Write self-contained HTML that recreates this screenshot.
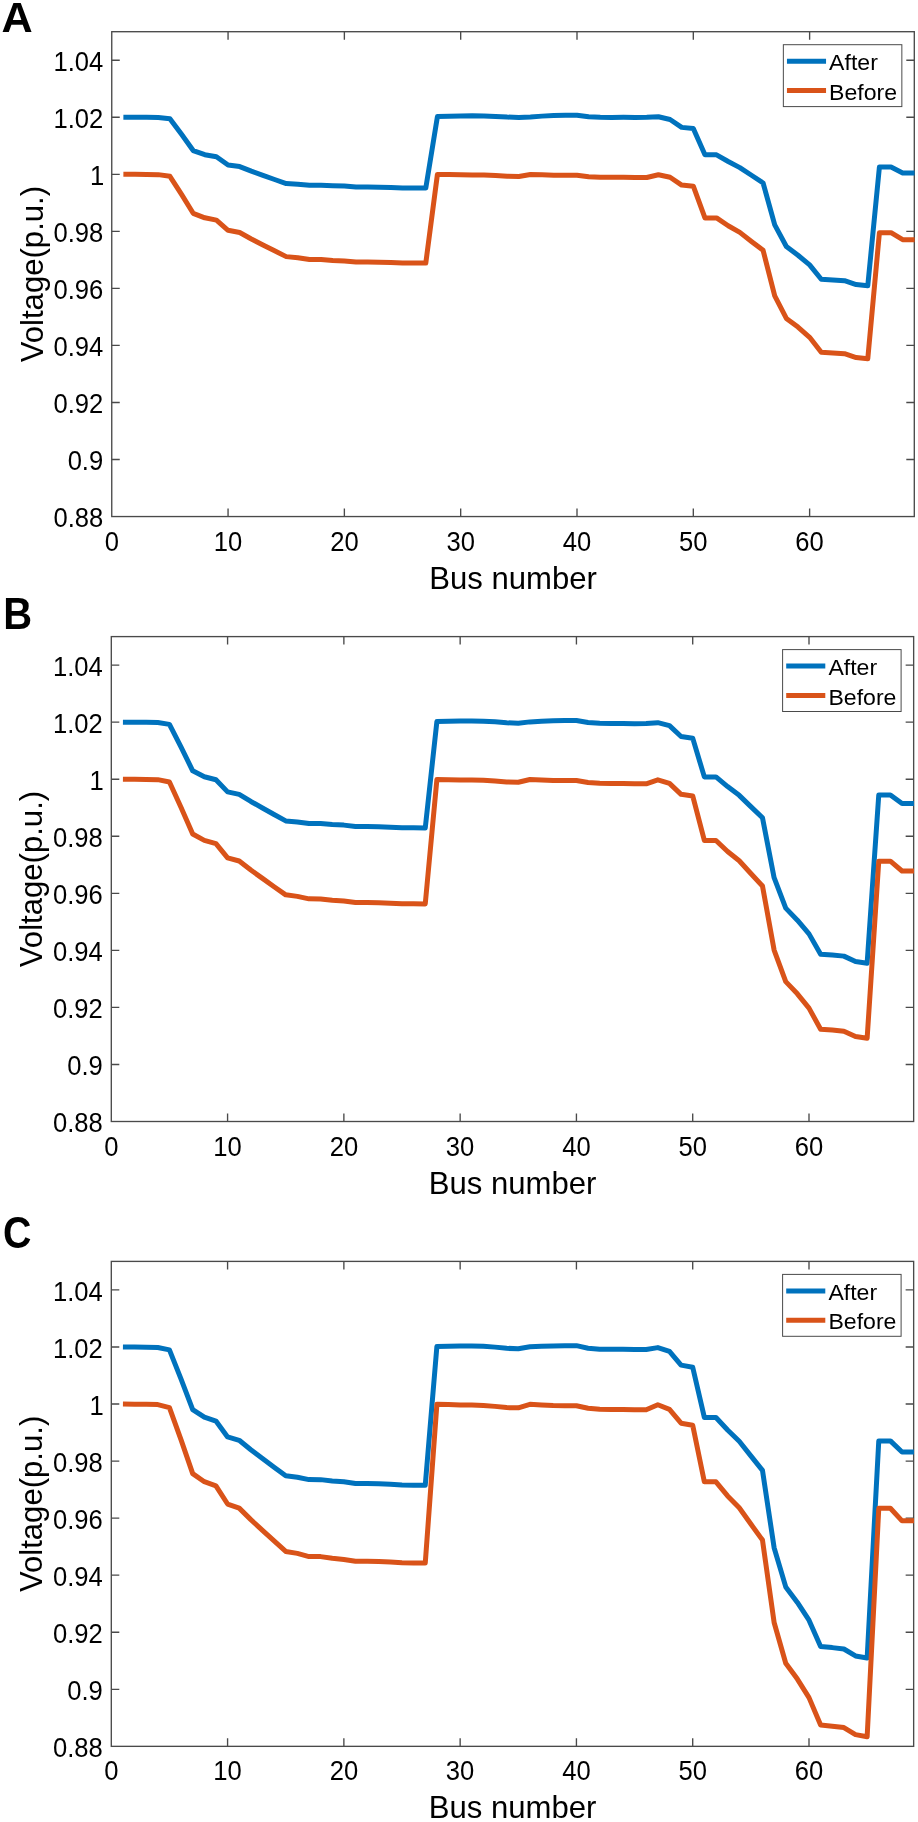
<!DOCTYPE html>
<html lang="en">
<head>
<meta charset="utf-8">
<title>Voltage profiles</title>
<style>
html,body{margin:0;padding:0;background:#fff;}
body{width:918px;height:1822px;overflow:hidden;}
svg{display:block;will-change:transform;}
svg text{font-family:"Liberation Sans", sans-serif;fill:#000;}
.tick{font-size:25.6px;}
.axl{font-size:31.1px;}
.leg{font-size:23.1px;}
.pl{font-size:43.2px;font-weight:bold;}
</style>
</head>
<body>
<svg width="918" height="1822" viewBox="0 0 918 1822">
<rect x="0" y="0" width="918" height="1822" fill="#ffffff"/>
<g id="panel-A">
<text class="pl" transform="translate(1.60 32.30) scale(1.000 1.000)">A</text>
<rect x="111.75" y="31.70" width="802.55" height="484.85" fill="none" stroke="#4a4a4a" stroke-width="1.35"/>
<path d="M228.06 516.55V508.55M228.06 31.70V39.70M344.37 516.55V508.55M344.37 31.70V39.70M460.68 516.55V508.55M460.68 31.70V39.70M577.00 516.55V508.55M577.00 31.70V39.70M693.31 516.55V508.55M693.31 31.70V39.70M809.62 516.55V508.55M809.62 31.70V39.70M111.75 459.51H119.75M914.30 459.51H906.30M111.75 402.47H119.75M914.30 402.47H906.30M111.75 345.43H119.75M914.30 345.43H906.30M111.75 288.39H119.75M914.30 288.39H906.30M111.75 231.34H119.75M914.30 231.34H906.30M111.75 174.30H119.75M914.30 174.30H906.30M111.75 117.26H119.75M914.30 117.26H906.30M111.75 60.22H119.75M914.30 60.22H906.30" fill="none" stroke="#4a4a4a" stroke-width="1.35"/>
<polyline points="123.38,117.26 135.01,117.31 146.64,117.36 158.27,117.50 169.91,118.69 181.54,134.30 193.17,150.57 204.80,154.70 216.43,156.81 228.06,164.96 239.69,166.57 251.32,171.11 262.96,175.32 274.59,179.49 286.22,183.61 297.85,184.20 309.48,185.17 321.11,185.18 332.74,185.70 344.37,186.07 356.00,187.06 367.64,187.08 379.27,187.22 390.90,187.56 402.53,187.91 414.16,188.05 425.79,188.09 437.42,116.58 449.05,116.25 460.68,115.93 472.32,115.74 483.95,115.91 495.58,116.41 507.21,117.10 518.84,117.40 530.47,116.91 542.10,116.12 553.73,115.58 565.37,115.26 577.00,115.26 588.63,116.71 600.26,117.24 611.89,117.38 623.52,117.37 635.15,117.47 646.78,117.37 658.41,116.72 670.05,119.51 681.68,127.37 693.31,128.57 704.94,154.85 716.57,154.87 728.20,161.45 739.83,167.62 751.46,175.27 763.09,183.00 774.73,224.92 786.36,246.53 797.99,255.22 809.62,264.84 821.25,279.30 832.88,279.89 844.51,280.66 856.14,284.52 867.78,285.70 879.41,167.07 891.04,167.07 902.67,172.89 914.30,172.89 914.60,172.89" fill="none" stroke="#0072bd" stroke-width="5" stroke-linejoin="round" stroke-linecap="butt"/>
<polyline points="123.38,174.30 135.01,174.36 146.64,174.45 158.27,174.63 169.91,176.29 181.54,194.43 193.17,213.31 204.80,217.82 216.43,220.11 228.06,230.27 239.69,232.54 251.32,238.96 262.96,244.91 274.59,250.80 286.22,256.63 297.85,257.70 309.48,259.49 321.11,259.51 332.74,260.46 344.37,261.07 356.00,262.05 367.64,262.07 379.27,262.21 390.90,262.54 402.53,262.88 414.16,263.02 425.79,263.06 437.42,174.45 449.05,174.61 460.68,174.85 472.32,174.89 483.95,175.09 495.58,175.62 507.21,176.31 518.84,176.44 530.47,174.47 542.10,174.81 553.73,175.14 565.37,175.24 577.00,175.24 588.63,176.66 600.26,177.25 611.89,177.33 623.52,177.35 635.15,177.53 646.78,177.55 658.41,174.73 670.05,177.27 681.68,185.07 693.31,186.18 704.94,217.88 716.57,217.90 728.20,225.76 739.83,232.36 751.46,241.44 763.09,250.31 774.73,295.94 786.36,318.40 797.99,327.09 809.62,337.28 821.25,352.31 832.88,352.90 844.51,353.67 856.14,357.53 867.78,358.71 879.41,232.66 891.04,232.66 902.67,239.63 914.30,239.63 914.60,239.63" fill="none" stroke="#d95319" stroke-width="5" stroke-linejoin="round" stroke-linecap="butt"/>
<text class="tick" text-anchor="end" transform="translate(103.2 527.2) scale(1 1.055)">0.88</text>
<text class="tick" text-anchor="end" transform="translate(103.2 470.2) scale(1 1.055)">0.9</text>
<text class="tick" text-anchor="end" transform="translate(103.2 413.2) scale(1 1.055)">0.92</text>
<text class="tick" text-anchor="end" transform="translate(103.2 356.1) scale(1 1.055)">0.94</text>
<text class="tick" text-anchor="end" transform="translate(103.2 299.1) scale(1 1.055)">0.96</text>
<text class="tick" text-anchor="end" transform="translate(103.2 242.0) scale(1 1.055)">0.98</text>
<text class="tick" text-anchor="end" transform="translate(104.2 185.0) scale(1 1.055)">1</text>
<text class="tick" text-anchor="end" transform="translate(103.2 128.0) scale(1 1.055)">1.02</text>
<text class="tick" text-anchor="end" transform="translate(103.2 70.9) scale(1 1.055)">1.04</text>
<text class="tick" text-anchor="middle" transform="translate(111.8 550.5) scale(1 1.05)">0</text>
<text class="tick" text-anchor="middle" transform="translate(228.1 550.5) scale(1 1.05)">10</text>
<text class="tick" text-anchor="middle" transform="translate(344.4 550.5) scale(1 1.05)">20</text>
<text class="tick" text-anchor="middle" transform="translate(460.7 550.5) scale(1 1.05)">30</text>
<text class="tick" text-anchor="middle" transform="translate(577.0 550.5) scale(1 1.05)">40</text>
<text class="tick" text-anchor="middle" transform="translate(693.3 550.5) scale(1 1.05)">50</text>
<text class="tick" text-anchor="middle" transform="translate(809.6 550.5) scale(1 1.05)">60</text>
<text class="axl" text-anchor="middle" x="513.0" y="588.5">Bus number</text>
<text class="axl" text-anchor="middle" transform="translate(42.8 274.1) rotate(-90)">Voltage(p.u.)</text>
<rect x="783.35" y="44.70" width="118.50" height="61.90" fill="#fff" stroke="#4a4a4a" stroke-width="1"/>
<path d="M786.95 61.20H826.05" stroke="#0072bd" stroke-width="5" fill="none"/>
<path d="M786.95 90.60H826.05" stroke="#d95319" stroke-width="5" fill="none"/>
<text class="leg" transform="translate(829.1 69.8) scale(1 0.957)">After</text>
<text class="leg" transform="translate(829.1 99.7) scale(1 0.957)">Before</text>
</g>
<g id="panel-B">
<text class="pl" transform="translate(3.25 628.70) scale(0.925 1.020)">B</text>
<rect x="111.30" y="636.60" width="802.35" height="484.90" fill="none" stroke="#4a4a4a" stroke-width="1.35"/>
<path d="M227.58 1121.50V1113.50M227.58 636.60V644.60M343.87 1121.50V1113.50M343.87 636.60V644.60M460.15 1121.50V1113.50M460.15 636.60V644.60M576.43 1121.50V1113.50M576.43 636.60V644.60M692.71 1121.50V1113.50M692.71 636.60V644.60M809.00 1121.50V1113.50M809.00 636.60V644.60M111.30 1064.45H119.30M913.65 1064.45H905.65M111.30 1007.41H119.30M913.65 1007.41H905.65M111.30 950.36H119.30M913.65 950.36H905.65M111.30 893.31H119.30M913.65 893.31H905.65M111.30 836.26H119.30M913.65 836.26H905.65M111.30 779.22H119.30M913.65 779.22H905.65M111.30 722.17H119.30M913.65 722.17H905.65M111.30 665.12H119.30M913.65 665.12H905.65" fill="none" stroke="#4a4a4a" stroke-width="1.35"/>
<polyline points="122.93,722.17 134.56,722.24 146.18,722.33 157.81,722.53 169.44,724.38 181.07,747.13 192.70,770.82 204.33,776.73 215.95,779.74 227.58,791.88 239.21,794.39 250.84,801.45 262.47,808.00 274.10,814.49 285.72,820.91 297.35,821.92 308.98,823.59 320.61,823.61 332.24,824.51 343.87,825.11 355.49,826.48 367.12,826.51 378.75,826.71 390.38,827.17 402.01,827.66 413.63,827.86 425.26,827.92 436.89,721.54 448.52,721.28 460.15,721.05 471.78,720.88 483.40,721.13 495.03,721.84 506.66,722.80 518.29,723.14 529.92,721.88 541.55,721.22 553.17,720.82 564.80,720.53 576.43,720.53 588.06,722.54 599.69,723.31 611.32,723.48 622.94,723.48 634.57,723.65 646.20,723.56 657.83,722.65 669.46,725.59 681.08,736.51 692.71,738.15 704.34,776.90 715.97,776.93 727.60,786.60 739.23,795.37 750.85,806.59 762.48,817.81 774.11,877.68 785.74,908.12 797.37,920.23 809.00,933.87 820.62,954.23 832.25,955.05 843.88,956.13 855.51,961.51 867.14,963.15 878.77,794.93 890.39,794.93 902.02,803.50 913.65,803.50 913.95,803.50" fill="none" stroke="#0072bd" stroke-width="5" stroke-linejoin="round" stroke-linecap="butt"/>
<polyline points="122.93,779.22 134.56,779.30 146.18,779.42 157.81,779.67 169.44,782.01 181.07,807.48 192.70,834.01 204.33,840.34 215.95,843.57 227.58,857.83 239.21,861.02 250.84,870.04 262.47,878.39 274.10,886.67 285.72,894.85 297.35,896.36 308.98,898.87 320.61,898.90 332.24,900.24 343.87,901.10 355.49,902.47 367.12,902.50 378.75,902.70 390.38,903.15 402.01,903.64 413.63,903.84 425.26,903.89 436.89,779.42 448.52,779.65 460.15,779.99 471.78,780.04 483.40,780.33 495.03,781.07 506.66,782.04 518.29,782.21 529.92,779.45 541.55,779.93 553.17,780.39 564.80,780.53 576.43,780.53 588.06,782.53 599.69,783.35 611.32,783.47 622.94,783.50 634.57,783.75 646.20,783.78 657.83,779.82 669.46,783.38 681.08,794.34 692.71,795.90 704.34,840.43 715.97,840.46 727.60,851.50 739.23,860.77 750.85,873.52 762.48,885.98 774.11,950.07 785.74,981.62 797.37,993.83 809.00,1008.15 820.62,1029.25 832.25,1030.08 843.88,1031.17 855.51,1036.59 867.14,1038.24 878.77,861.19 890.39,861.19 902.02,870.98 913.65,870.98 913.95,870.98" fill="none" stroke="#d95319" stroke-width="5" stroke-linejoin="round" stroke-linecap="butt"/>
<text class="tick" text-anchor="end" transform="translate(102.8 1132.2) scale(1 1.055)">0.88</text>
<text class="tick" text-anchor="end" transform="translate(102.8 1075.2) scale(1 1.055)">0.9</text>
<text class="tick" text-anchor="end" transform="translate(102.8 1018.1) scale(1 1.055)">0.92</text>
<text class="tick" text-anchor="end" transform="translate(102.8 961.1) scale(1 1.055)">0.94</text>
<text class="tick" text-anchor="end" transform="translate(102.8 904.0) scale(1 1.055)">0.96</text>
<text class="tick" text-anchor="end" transform="translate(102.8 847.0) scale(1 1.055)">0.98</text>
<text class="tick" text-anchor="end" transform="translate(103.8 789.9) scale(1 1.055)">1</text>
<text class="tick" text-anchor="end" transform="translate(102.8 732.9) scale(1 1.055)">1.02</text>
<text class="tick" text-anchor="end" transform="translate(102.8 675.8) scale(1 1.055)">1.04</text>
<text class="tick" text-anchor="middle" transform="translate(111.3 1155.5) scale(1 1.05)">0</text>
<text class="tick" text-anchor="middle" transform="translate(227.6 1155.5) scale(1 1.05)">10</text>
<text class="tick" text-anchor="middle" transform="translate(343.9 1155.5) scale(1 1.05)">20</text>
<text class="tick" text-anchor="middle" transform="translate(460.1 1155.5) scale(1 1.05)">30</text>
<text class="tick" text-anchor="middle" transform="translate(576.4 1155.5) scale(1 1.05)">40</text>
<text class="tick" text-anchor="middle" transform="translate(692.7 1155.5) scale(1 1.05)">50</text>
<text class="tick" text-anchor="middle" transform="translate(809.0 1155.5) scale(1 1.05)">60</text>
<text class="axl" text-anchor="middle" x="512.5" y="1193.5">Bus number</text>
<text class="axl" text-anchor="middle" transform="translate(41.8 879.0) rotate(-90)">Voltage(p.u.)</text>
<rect x="782.60" y="649.60" width="118.50" height="61.90" fill="#fff" stroke="#4a4a4a" stroke-width="1"/>
<path d="M786.20 666.10H825.30" stroke="#0072bd" stroke-width="5" fill="none"/>
<path d="M786.20 695.50H825.30" stroke="#d95319" stroke-width="5" fill="none"/>
<text class="leg" transform="translate(828.4 674.7) scale(1 0.957)">After</text>
<text class="leg" transform="translate(828.4 704.6) scale(1 0.957)">Before</text>
</g>
<g id="panel-C">
<text class="pl" transform="translate(3.00 1247.60) scale(0.911 1.025)">C</text>
<rect x="111.30" y="1261.40" width="802.35" height="484.95" fill="none" stroke="#4a4a4a" stroke-width="1.35"/>
<path d="M227.58 1746.35V1738.35M227.58 1261.40V1269.40M343.87 1746.35V1738.35M343.87 1261.40V1269.40M460.15 1746.35V1738.35M460.15 1261.40V1269.40M576.43 1746.35V1738.35M576.43 1261.40V1269.40M692.71 1746.35V1738.35M692.71 1261.40V1269.40M809.00 1746.35V1738.35M809.00 1261.40V1269.40M111.30 1689.30H119.30M913.65 1689.30H905.65M111.30 1632.24H119.30M913.65 1632.24H905.65M111.30 1575.19H119.30M913.65 1575.19H905.65M111.30 1518.14H119.30M913.65 1518.14H905.65M111.30 1461.09H119.30M913.65 1461.09H905.65M111.30 1404.03H119.30M913.65 1404.03H905.65M111.30 1346.98H119.30M913.65 1346.98H905.65M111.30 1289.93H119.30M913.65 1289.93H905.65" fill="none" stroke="#4a4a4a" stroke-width="1.35"/>
<polyline points="122.93,1346.98 134.56,1347.07 146.18,1347.19 157.81,1347.46 169.44,1349.90 181.07,1379.12 192.70,1409.67 204.33,1417.22 215.95,1421.07 227.58,1436.96 239.21,1440.31 250.84,1449.76 262.47,1458.53 274.10,1467.22 285.72,1475.84 297.35,1477.25 308.98,1479.61 320.61,1479.63 332.24,1480.89 343.87,1481.72 355.49,1483.47 367.12,1483.50 378.75,1483.76 390.38,1484.34 402.01,1484.96 413.63,1485.21 425.26,1485.28 436.89,1346.40 448.52,1346.20 460.15,1346.06 471.78,1345.90 483.40,1346.22 495.03,1347.12 506.66,1348.33 518.29,1348.71 529.92,1346.75 541.55,1346.21 553.17,1345.92 564.80,1345.67 576.43,1345.67 588.06,1348.19 599.69,1349.16 611.32,1349.36 622.94,1349.37 634.57,1349.60 646.20,1349.52 657.83,1347.61 669.46,1351.45 681.08,1365.15 692.71,1367.19 704.34,1417.42 715.97,1417.46 727.60,1430.01 739.23,1441.22 750.85,1455.82 762.48,1470.36 774.11,1547.67 785.74,1586.90 797.37,1602.45 809.00,1620.15 820.62,1646.55 832.25,1647.61 843.88,1649.00 855.51,1655.94 867.14,1658.06 878.77,1440.90 890.39,1440.90 902.02,1452.06 913.65,1452.06 913.95,1452.06" fill="none" stroke="#0072bd" stroke-width="5" stroke-linejoin="round" stroke-linecap="butt"/>
<polyline points="122.93,1404.03 134.56,1404.14 146.18,1404.29 157.81,1404.61 169.44,1407.57 181.07,1439.88 192.70,1473.63 204.33,1481.70 215.95,1485.81 227.58,1504.02 239.21,1508.10 250.84,1519.62 262.47,1530.32 274.10,1540.91 285.72,1551.41 297.35,1553.35 308.98,1556.57 320.61,1556.61 332.24,1558.33 343.87,1559.42 355.49,1561.18 367.12,1561.22 378.75,1561.48 390.38,1562.06 402.01,1562.68 413.63,1562.94 425.26,1563.01 436.89,1404.29 448.52,1404.57 460.15,1405.01 471.78,1405.08 483.40,1405.44 495.03,1406.38 506.66,1407.61 518.29,1407.83 529.92,1404.32 541.55,1404.94 553.17,1405.51 564.80,1405.69 576.43,1405.69 588.06,1408.22 599.69,1409.27 611.32,1409.42 622.94,1409.45 634.57,1409.78 646.20,1409.81 657.83,1404.79 669.46,1409.31 681.08,1423.19 692.71,1425.18 704.34,1481.81 715.97,1481.85 727.60,1495.93 739.23,1507.77 750.85,1524.07 762.48,1540.04 774.11,1622.46 785.74,1663.24 797.37,1679.06 809.00,1697.64 820.62,1725.08 832.25,1726.16 843.88,1727.57 855.51,1734.63 867.14,1736.78 878.77,1508.32 890.39,1508.32 902.02,1520.83 913.65,1520.83 913.95,1520.83" fill="none" stroke="#d95319" stroke-width="5" stroke-linejoin="round" stroke-linecap="butt"/>
<text class="tick" text-anchor="end" transform="translate(102.8 1757.0) scale(1 1.055)">0.88</text>
<text class="tick" text-anchor="end" transform="translate(102.8 1700.0) scale(1 1.055)">0.9</text>
<text class="tick" text-anchor="end" transform="translate(102.8 1642.9) scale(1 1.055)">0.92</text>
<text class="tick" text-anchor="end" transform="translate(102.8 1585.9) scale(1 1.055)">0.94</text>
<text class="tick" text-anchor="end" transform="translate(102.8 1528.8) scale(1 1.055)">0.96</text>
<text class="tick" text-anchor="end" transform="translate(102.8 1471.8) scale(1 1.055)">0.98</text>
<text class="tick" text-anchor="end" transform="translate(103.8 1414.7) scale(1 1.055)">1</text>
<text class="tick" text-anchor="end" transform="translate(102.8 1357.7) scale(1 1.055)">1.02</text>
<text class="tick" text-anchor="end" transform="translate(102.8 1300.6) scale(1 1.055)">1.04</text>
<text class="tick" text-anchor="middle" transform="translate(111.3 1780.3) scale(1 1.05)">0</text>
<text class="tick" text-anchor="middle" transform="translate(227.6 1780.3) scale(1 1.05)">10</text>
<text class="tick" text-anchor="middle" transform="translate(343.9 1780.3) scale(1 1.05)">20</text>
<text class="tick" text-anchor="middle" transform="translate(460.1 1780.3) scale(1 1.05)">30</text>
<text class="tick" text-anchor="middle" transform="translate(576.4 1780.3) scale(1 1.05)">40</text>
<text class="tick" text-anchor="middle" transform="translate(692.7 1780.3) scale(1 1.05)">50</text>
<text class="tick" text-anchor="middle" transform="translate(809.0 1780.3) scale(1 1.05)">60</text>
<text class="axl" text-anchor="middle" x="512.5" y="1818.3">Bus number</text>
<text class="axl" text-anchor="middle" transform="translate(41.8 1503.9) rotate(-90)">Voltage(p.u.)</text>
<rect x="782.60" y="1274.40" width="118.50" height="61.90" fill="#fff" stroke="#4a4a4a" stroke-width="1"/>
<path d="M786.20 1290.90H825.30" stroke="#0072bd" stroke-width="5" fill="none"/>
<path d="M786.20 1320.30H825.30" stroke="#d95319" stroke-width="5" fill="none"/>
<text class="leg" transform="translate(828.4 1299.5) scale(1 0.957)">After</text>
<text class="leg" transform="translate(828.4 1329.4) scale(1 0.957)">Before</text>
</g>
</svg>
</body>
</html>
